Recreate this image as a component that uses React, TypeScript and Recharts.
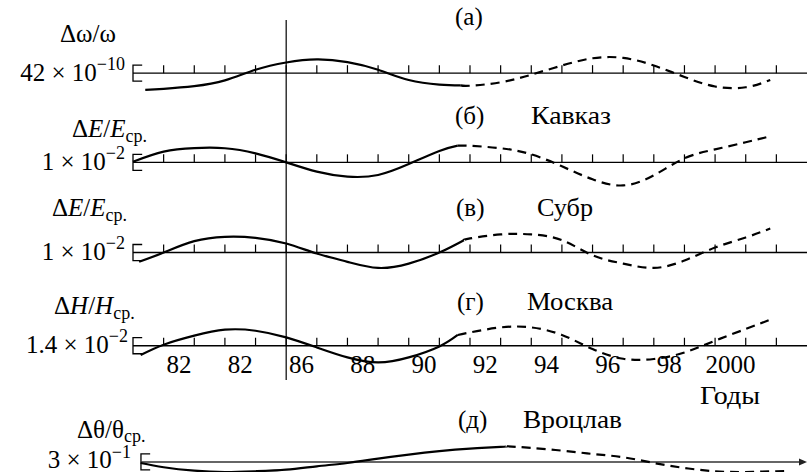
import { ComposedChart, Line, XAxis, YAxis, ReferenceLine, ReferenceArea, Scatter } from 'recharts';

const W = 807;
const H = 472;
const AXIS_H = 1; // the year axis band at the bottom of the chart
const PLOT_H = H - AXIS_H;
const FONT = '"Liberation Serif", "DejaVu Serif", serif';

// x-axis (годы)
const X_DOMAIN = [1981, 2003];
const TICK_YEARS = [1982, 1983, 1984, 1985, 1986, 1987, 1988, 1989, 1990, 1991, 1992, 1993, 1994, 1995, 1996, 1997, 1998, 1999, 2000, 2001, 2002];
const LABEL_YEARS = [1982.5, 1984.5, 1986.5, 1988.5, 1990.5, 1992.5, 1994.5, 1996.5, 1998.5, 2000.5];
const YEAR_LABELS = ['82', '82', '86', '88', '90', '92', '94', '96', '98', '2000'];
const MARK_YEAR = 1986;

// scale bars: 42e-10, 1e-2, 1e-2, 1.4e-2, 3e-1
const SCALE_VALUES = [42, 1, 1, 1.4, 3];

// (а) Δω/ω, x 1e-10
const A_SOLID_YEARS = [1981.4, 1982, 1983, 1984, 1985, 1986, 1987, 1988, 1989, 1990, 1991, 1991.7];
const A_SOLID = [-44, -41, -34, -19, 9, 28, 36, 29, 9, -18, -30, -32];
const A_DASH_YEARS = [1991.7, 1992, 1993, 1994, 1995, 1996, 1997, 1998, 1999, 2000, 2001, 2001.8];
const A_DASH = [-32, -33, -24, -4, 20, 39, 40, 20, -10, -35, -37, -18];

// (б) Кавказ, ΔE/E, x 1e-2
const B_SOLID_YEARS = [1981, 1982, 1983, 1984, 1985, 1986, 1987, 1988, 1989, 1990, 1991, 1991.6];
const B_SOLID = [0.04, 0.67, 0.89, 0.88, 0.56, 0, -0.58, -0.89, -0.79, -0.11, 0.71, 1.04];
const B_DASH_YEARS = [1991.6, 1992, 1993, 1994, 1995, 1996, 1997, 1998, 1999, 2000, 2001, 2001.8];
const B_DASH = [1.04, 1.03, 0.88, 0.5, -0.25, -1.06, -1.44, -0.81, 0.25, 0.81, 1.25, 1.63];

// (в) Субр, ΔE/E, x 1e-2
const C_SOLID_YEARS = [1981.2, 1982, 1983, 1984, 1985, 1986, 1987, 1988, 1989, 1990, 1991, 1991.8];
const C_SOLID = [-0.58, 0, 0.71, 0.98, 0.92, 0.56, -0.06, -0.58, -0.96, -0.69, 0, 0.77];
const C_DASH_YEARS = [1991.8, 1992, 1993, 1994, 1995, 1996, 1997, 1998, 1999, 2000, 2001, 2001.8];
const C_DASH = [0.77, 0.88, 1.13, 1.13, 0.77, -0.17, -0.69, -0.96, -0.5, 0.31, 0.94, 1.5];

// (г) Москва, ΔH/H, x 1e-2
const D_SOLID_YEARS = [1981.25, 1982, 1983, 1984, 1985, 1986, 1987, 1988, 1989, 1990, 1991, 1991.6];
const D_SOLID = [-0.81, 0.09, 0.88, 1.4, 1.31, 0.73, -0.15, -1.02, -1.46, -1.02, -0.06, 0.94];
const D_DASH_YEARS = [1991.6, 1992, 1993, 1994, 1995, 1996, 1997, 1998, 1999, 2000, 2001, 2001.8];
const D_DASH = [0.94, 1.16, 1.6, 1.6, 0.94, -0.29, -1.14, -1.16, -0.59, 0.44, 1.46, 2.28];

// (д) Вроцлав, Δθ/θ, x 1e-1
const E_SOLID_YEARS = [1981.25, 1982, 1983, 1984, 1985, 1986, 1987, 1988, 1989, 1990, 1991, 1992, 1993, 1993.2];
const E_SOLID = [-0.19, -0.99, -1.63, -1.88, -1.74, -1.44, -0.81, -0.19, 0.62, 1.37, 2.01, 2.49, 2.81, 2.94];
const E_DASH_YEARS = [1993.2, 1994, 1995, 1996, 1997, 1998, 1999, 2000, 2001, 2002, 2002.4];
const E_DASH = [2.94, 2.63, 2.12, 1.5, 0.88, -0.19, -1.13, -1.74, -1.88, -1.74, -1.69];

const toPts = (xs: number[], ys: number[]) => xs.map((x, i) => ({ x, y: ys[i] }));

const BRACKET_PX = 16; // bracket height in px = one scale value

const PANELS = [
  { id: 'a', base: 73, scale: SCALE_VALUES[0], start: 1981, solid: toPts(A_SOLID_YEARS, A_SOLID), dash: toPts(A_DASH_YEARS, A_DASH), ticks: true, arrow: false },
  { id: 'b', base: 162, scale: SCALE_VALUES[1], start: 1981, solid: toPts(B_SOLID_YEARS, B_SOLID), dash: toPts(B_DASH_YEARS, B_DASH), ticks: true, arrow: false },
  { id: 'c', base: 252, scale: SCALE_VALUES[2], start: 1981, solid: toPts(C_SOLID_YEARS, C_SOLID), dash: toPts(C_DASH_YEARS, C_DASH), ticks: true, arrow: false },
  { id: 'd', base: 345, scale: SCALE_VALUES[3], start: 1981, solid: toPts(D_SOLID_YEARS, D_SOLID), dash: toPts(D_DASH_YEARS, D_DASH), ticks: true, arrow: false },
  { id: 'e', base: 461, scale: SCALE_VALUES[4], start: 1981.26, solid: toPts(E_SOLID_YEARS, E_SOLID), dash: toPts(E_DASH_YEARS, E_DASH), ticks: false, arrow: true },
];

const tickPts = TICK_YEARS.map((x) => ({ x, y: 0 }));

const TickMark = (p: any) => (
  <line x1={p.cx} x2={p.cx} y1={p.cy} y2={p.cy - 8} stroke="#000" strokeWidth={1.2} />
);

const Bracket = (p: any) => (
  <path
    d={`M${p.x + p.width},${p.y} H${p.x} V${p.y + p.height} H${p.x + p.width}`}
    fill="none"
    stroke="#000"
    strokeWidth={1.3}
  />
);

const AxisLine = (arrow: boolean) => (p: any) => (
  <g>
    <line x1={p.x1} y1={p.y1} x2={arrow ? p.x2 - 4 : p.x2} y2={p.y2} stroke={arrow ? '#333' : '#000'} strokeWidth={1.4} />
    {arrow && <path d={`M${p.x2},${p.y2} L${p.x2 - 8},${p.y2 - 3.5} L${p.x2 - 8},${p.y2 + 3.5} Z`} fill="#222" />}
  </g>
);

const VLine = (p: any) => <line x1={p.x1} x2={p.x1} y1={20} y2={380} stroke="#000" strokeWidth={1.2} />;

function Labels() {
  const t = { fontFamily: FONT, fontSize: 25, fill: '#000' } as const;
  const sub = 18;
  return (
    <svg width={W} height={H} style={{ position: 'absolute', left: 0, top: 0, pointerEvents: 'none' }}>
      <g {...t}>
        {/* (а) */}
        <text x={60} y={42}>Δω/ω</text>
        <text x={125} y={81} textAnchor="end">
          42 × 10<tspan fontSize={sub} dy={-11}>−10</tspan>
        </text>
        <text x={455} y={25}>(а)</text>

        {/* (б) */}
        <text x={72} y={137}>
          Δ<tspan fontStyle="italic">E</tspan>/<tspan fontStyle="italic">E</tspan>
          <tspan fontSize={sub} dy={5}>ср.</tspan>
        </text>
        <text x={125} y={170} textAnchor="end">
          1 × 10<tspan fontSize={sub} dy={-11}>−2</tspan>
        </text>
        <text x={455} y={124}>(б)</text>
        <text x={531} y={124} textLength={80} lengthAdjust="spacingAndGlyphs">Кавказ</text>

        {/* (в) */}
        <text x={52} y={216}>
          Δ<tspan fontStyle="italic">E</tspan>/<tspan fontStyle="italic">E</tspan>
          <tspan fontSize={sub} dy={5}>ср.</tspan>
        </text>
        <text x={125} y={260} textAnchor="end">
          1 × 10<tspan fontSize={sub} dy={-11}>−2</tspan>
        </text>
        <text x={456} y={216}>(в)</text>
        <text x={537} y={216} textLength={56} lengthAdjust="spacingAndGlyphs">Субр</text>

        {/* (г) */}
        <text x={54} y={314}>
          Δ<tspan fontStyle="italic">H</tspan>/<tspan fontStyle="italic">H</tspan>
          <tspan fontSize={sub} dy={5}>ср.</tspan>
        </text>
        <text x={128} y={353} textAnchor="end">
          1.4 × 10<tspan fontSize={sub} dy={-11}>−2</tspan>
        </text>
        <text x={457} y={310}>(г)</text>
        <text x={527} y={310} textLength={86} lengthAdjust="spacingAndGlyphs">Москва</text>

        <text x={700} y={404} textLength={60} lengthAdjust="spacingAndGlyphs">Годы</text>

        {/* (д) */}
        <text x={77} y={438}>
          Δθ/θ<tspan fontSize={sub} dy={4}>ср.</tspan>
        </text>
        <text x={131} y={468} textAnchor="end">
          3 × 10<tspan fontSize={sub} dy={-10}>−1</tspan>
        </text>
        <text x={458} y={428}>(д)</text>
        <text x={523} y={428} textLength={99} lengthAdjust="spacingAndGlyphs">Вроцлав</text>
      </g>
    </svg>
  );
}

export default function App() {
  return (
    <div style={{ position: 'absolute', left: 0, top: 0, width: W, height: H, background: '#fff' }}>
      <ComposedChart width={W} height={H} margin={{ top: 0, right: 0, bottom: 0, left: 133 }}>
        <XAxis
          dataKey="x"
          type="number"
          domain={X_DOMAIN}
          ticks={LABEL_YEARS}
          interval={0}
          tickFormatter={(v: number) => YEAR_LABELS[LABEL_YEARS.indexOf(v)] ?? ''}
          mirror
          axisLine={false}
          tickLine={false}
          tickSize={0}
          tickMargin={PLOT_H - 372}
          height={AXIS_H}
          tick={{ fontFamily: FONT, fontSize: 25, fill: '#000' }}
        />
        {PANELS.map((p) => {
          const k = BRACKET_PX / p.scale;
          return (
            <YAxis key={p.id} yAxisId={p.id} dataKey="y" type="number" hide domain={[-(PLOT_H - p.base) / k, p.base / k]} />
          );
        })}

        <ReferenceLine yAxisId="a" x={MARK_YEAR} shape={VLine} />

        {PANELS.map((p) => (
          <ReferenceLine
            key={`ax-${p.id}`}
            yAxisId={p.id}
            segment={[{ x: p.start, y: 0 }, { x: X_DOMAIN[1], y: 0 }]}
            shape={AxisLine(p.arrow)}
          />
        ))}
        {PANELS.map((p) => (
          <ReferenceArea
            key={`br-${p.id}`}
            yAxisId={p.id}
            x1={p.start}
            x2={p.start + 0.3}
            y1={-p.scale / 2}
            y2={p.scale / 2}
            shape={Bracket}
          />
        ))}
        {PANELS.filter((p) => p.ticks).map((p) => (
          <Scatter key={`tk-${p.id}`} yAxisId={p.id} data={tickPts} dataKey="y" shape={TickMark} isAnimationActive={false} />
        ))}
        {PANELS.map((p) => (
          <Line
            key={`s-${p.id}`}
            yAxisId={p.id}
            data={p.solid}
            dataKey="y"
            type="natural"
            stroke="#000"
            strokeWidth={2.2}
            dot={false}
            activeDot={false}
            isAnimationActive={false}
          />
        ))}
        {PANELS.map((p) => (
          <Line
            key={`d-${p.id}`}
            yAxisId={p.id}
            data={p.dash}
            dataKey="y"
            type="natural"
            stroke="#000"
            strokeWidth={2.2}
            strokeDasharray="9 6"
            dot={false}
            activeDot={false}
            isAnimationActive={false}
          />
        ))}
      </ComposedChart>
      <Labels />
    </div>
  );
}
